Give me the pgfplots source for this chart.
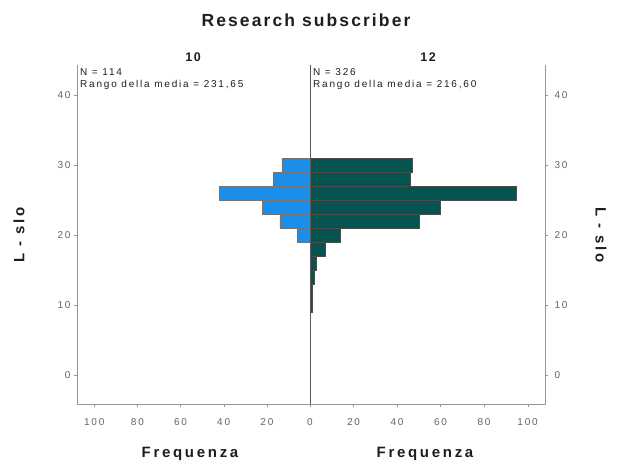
\documentclass[border=0pt]{standalone}
\usepackage{fontspec}
\setmainfont{Liberation Sans}
\newfontfamily\spr[LetterSpace=18]{Liberation Sans}
\newfontfamily\spb[LetterSpace=18]{Liberation Sans}
\newfontfamily\spt[LetterSpace=12]{Liberation Sans}
\usepackage{pgfplots}
\usepackage{pgfplotstable}
\pgfplotsset{compat=1.18}
\definecolor{barblue}{RGB}{26,142,232}
\definecolor{barteal}{RGB}{5,84,80}
\definecolor{axgray}{RGB}{150,150,150}
\definecolor{tickgray}{RGB}{100,100,100}
\definecolor{txt}{RGB}{30,30,30}

\pgfplotstableread{
y f
30 13
28 17
26 42
24 22
22 14
20 6
}\leftdata
\pgfplotstableread{
y f
30 47
28 46
26 95
24 60
22 50
20 14
18 7
16 3
14 2
12 1
10 1
}\rightdata

\begin{document}
\begin{tikzpicture}[x=1pt,y=1pt]
\useasboundingbox (0,0) rectangle (628,466);
\pgfplotsset{
 common/.style={scale only axis, height=339pt, ymin=-4.14, ymax=44.29,
   ytick={0,10,...,40}, axis line style={draw=none},
   tick align=outside, major tick length=3pt, tick style={axgray},
   ticklabel style={font=\spr\fontsize{10}{12}\selectfont, text=tickgray},
   xticklabel style={yshift=-8pt},
   /pgf/number format/assume math mode=true,
   xbar, bar width=2, anchor=south west}
}
\begin{axis}[common, at={(77pt,62pt)}, width=233pt,
  xmin=-108, xmax=0, xtick={-100,-80,...,0}, xticklabels={100,80,60,40,20,0},
  xtick pos=left, ytick pos=left]
\addplot[fill=barblue, draw=black!55, line width=0.5pt] table[x expr=-\thisrow{f}, y=y]{\leftdata};
\end{axis}
\begin{axis}[common, at={(310pt,62pt)}, width=235pt,
  xmin=0, xmax=108, xtick={20,40,...,100},
  xtick pos=left, ytick pos=right, yticklabel pos=right,
  yticklabel style={xshift=3pt}]
\addplot[fill=barteal, draw=black!70, line width=0.5pt] table[x=f, y=y]{\rightdata};
\end{axis}
\draw[axgray, line width=0.8pt] (77,401) -- (77,62) -- (545,62) -- (545,401);
\draw[black!65, line width=0.8pt] (310,62) -- (310,401);
\node[font=\spt\bfseries\fontsize{17.5}{20}\selectfont, text=txt] at (306,446) {Research subscriber};
\node[font=\spt\bfseries\fontsize{12.5}{14}\selectfont, text=txt] at (193,409) {10};
\node[font=\spt\bfseries\fontsize{12.5}{14}\selectfont, text=txt] at (428,409) {12};
\node[anchor=base west, inner sep=0pt, font=\spr\fontsize{10}{12}\selectfont, text=txt] at (80,390) {N = 114};
\node[anchor=base west, inner sep=0pt, font=\spr\fontsize{10}{12}\selectfont, text=txt] at (80,378) {Rango della media = 231,65};
\node[anchor=base west, inner sep=0pt, font=\spr\fontsize{10}{12}\selectfont, text=txt] at (313,390) {N = 326};
\node[anchor=base west, inner sep=0pt, font=\spr\fontsize{10}{12}\selectfont, text=txt] at (313,378) {Rango della media = 216,60};
\node[font=\spb\bfseries\fontsize{15}{17}\selectfont, text=txt] at (190,12) {Frequenza};
\node[font=\spb\bfseries\fontsize{15}{17}\selectfont, text=txt] at (425,12) {Frequenza};
\node[rotate=90, font=\spb\bfseries\fontsize{15}{17}\selectfont, text=txt] at (19,231) {L - slo};
\node[rotate=-90, font=\spb\bfseries\fontsize{15}{17}\selectfont, text=txt] at (601,231) {L - slo};
\end{tikzpicture}
\end{document}
